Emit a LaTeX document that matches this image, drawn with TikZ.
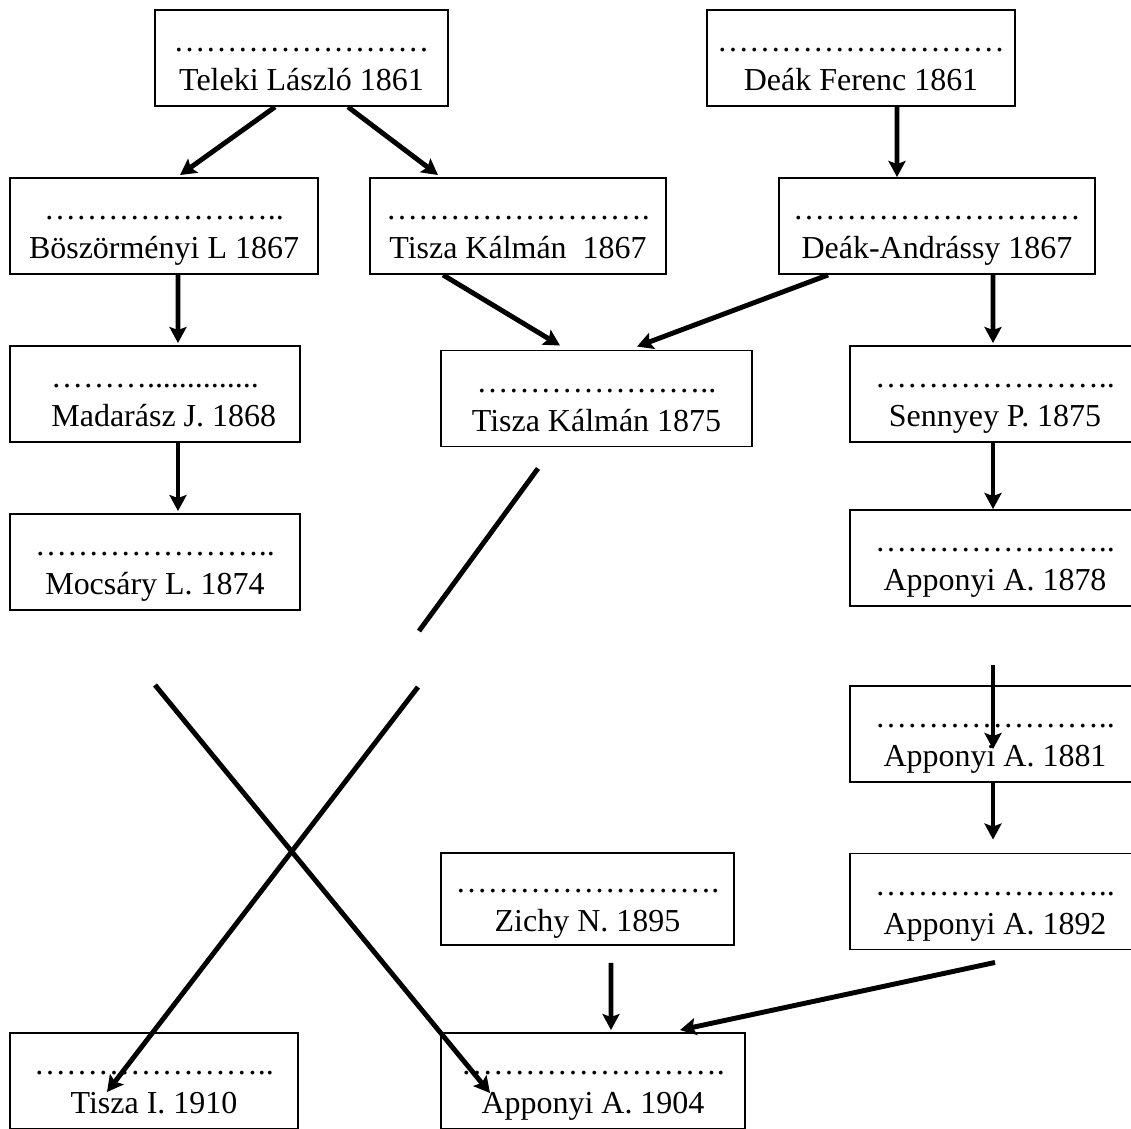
\documentclass[tikz,border=0pt]{standalone}
\usepackage{fontspec}
\setmainfont{Liberation Serif}
\usetikzlibrary{arrows.meta}

\begin{document}
\begin{tikzpicture}[x=0.02cm, y=-0.02cm,
  lbox/.style={rectangle, draw, line width=1.1pt, minimum height=1.92cm, inner sep=0pt, align=center,
    font=\fontsize{18.2}{22}\selectfont,
    execute at begin node={\rule{0pt}{42pt}}, execute at end node={\rule[-5pt]{0pt}{5pt}}},
  flow/.style={line width=2.8pt, -{Stealth[length=0.32cm,width=0.34cm,inset=0.06cm]}}]

\useasboundingbox (0,0) rectangle (1131,1128);

\node (n1) at (301.5,58) [lbox, minimum width=5.86cm]{……………………\\Teleki László 1861};
\node (n2) at (861,58) [lbox, minimum width=6.16cm]{………………………\\Deák Ferenc 1861};

\node (n3) at (164,226) [lbox, minimum width=6.16cm]{…………………..\\Böszörményi L 1867};
\node (n4) at (518,226) [lbox, minimum width=5.92cm]{…………………….\\Tisza Kálmán~ 1867};
\node (n5) at (937,226) [lbox, minimum width=6.32cm]{………………………\\Deák-Andrássy 1867};

\node (n6) at (155,394) [lbox, minimum width=5.8cm]{………..............\\\hspace*{0.35cm}Madarász J. 1868};
\node (n7) at (596.5,398.5) [lbox, minimum width=6.22cm]{…………………..\\Tisza Kálmán 1875};
\node (n8) at (995,394) [lbox, minimum width=5.8cm]{…………………..\\Sennyey P. 1875};

\node (n9) at (155,562) [lbox, minimum width=5.8cm]{…………………..\\Mocsáry L. 1874};
\node (n10) at (995,558) [lbox, minimum width=5.8cm]{…………………..\\Apponyi A. 1878};

\node (n11) at (995,734) [lbox, minimum width=5.8cm]{…………………..\\Apponyi A. 1881};

\node (n12) at (587.5,899) [lbox, minimum width=5.86cm, minimum height=1.84cm]{…………………….\\Zichy N. 1895};
\node (n13) at (995,901.5) [lbox, minimum width=5.8cm]{…………………..\\Apponyi A. 1892};

\node (n14) at (154,1081) [lbox, minimum width=5.76cm]{…………………..\\Tisza I. 1910};
\node (n15) at (593,1081) [lbox, minimum width=6.08cm]{…………………….\\Apponyi A. 1904};

\coordinate (c1) at (419,631);
\coordinate (c2) at (418,687);
\coordinate (c3) at (155,685);

\draw [flow] ([xshift=-0.53cm]n1.south) to ([xshift=0.32cm,yshift=0.04cm]n3.north);
\draw [flow] ([xshift=0.93cm]n1.south) to ([xshift=-1.6cm,yshift=0.04cm]n4.north);
\draw [flow] ([xshift=0.72cm]n2.south) to ([xshift=-0.8cm]n5.north);

\draw [flow] ([xshift=0.28cm]n3.south) to ([xshift=0.46cm,yshift=0.04cm]n6.north);
\draw [flow] ([xshift=-1.5cm]n4.south) to ([xshift=-0.73cm,yshift=0.08cm]n7.north);
\draw [flow] ([xshift=-2.18cm]n5.south) to ([xshift=0.81cm,yshift=0.06cm]n7.north);
\draw [flow] ([xshift=1.12cm]n5.south) to ([xshift=-0.04cm,yshift=0.04cm]n8.north);

\draw [flow] ([xshift=0.46cm]n6.south) to ([xshift=0.46cm,yshift=0.04cm]n9.north);
\draw [flow] ([xshift=-0.04cm]n8.south) to ([xshift=-0.04cm]n10.north);

\draw [flow] ([xshift=-0.04cm,yshift=-1.16cm]n10.south) to ([xshift=-0.04cm,yshift=-1.28cm]n11.north);
\draw [flow] ([xshift=-0.04cm]n11.south) to ([xshift=-0.04cm,yshift=0.26cm]n13.north);

\draw [flow] ([xshift=0.47cm,yshift=-0.34cm]n12.south) to ([xshift=0.36cm,yshift=0.04cm]n15.north);
\draw [flow] ([yshift=-0.24cm]n13.south) to ([xshift=1.74cm,yshift=0.04cm]n15.north);

\draw [line width=2.8pt] ([xshift=-1.17cm,yshift=-0.42cm]n7.south) to (c1);
\draw [flow] (c2) to ([xshift=-0.94cm,yshift=-0.22cm]n14.center);
\draw [flow] (c3) to ([xshift=-2.06cm,yshift=-0.24cm]n15.center);

\end{tikzpicture}
\end{document}
